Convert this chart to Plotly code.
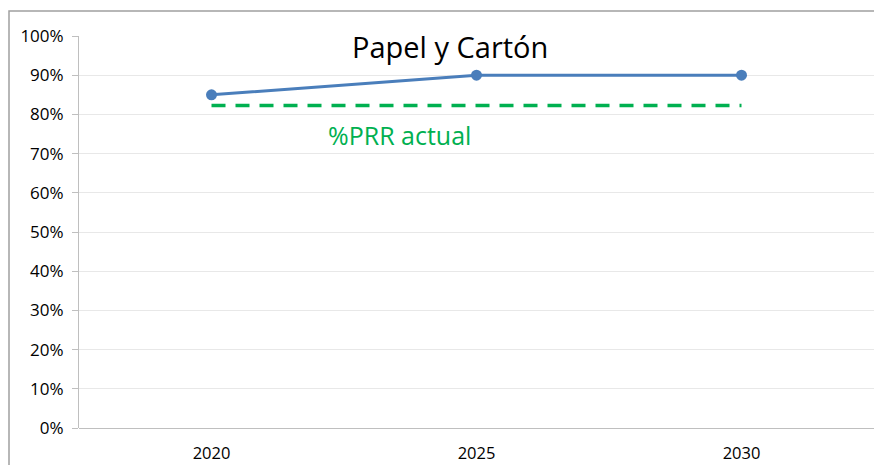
import plotly.graph_objects as go

years = ["2020", "2025", "2030"]
meta_pct = [85, 90, 90]
prr_actual = [82.3, 82.3, 82.3]
y_ticks = [0, 10, 20, 30, 40, 50, 60, 70, 80, 90, 100]
y_tick_labels = ["0%", "10%", "20%", "30%", "40%", "50%", "60%", "70%", "80%", "90%", "100%"]
title_text = "Papel y Cartón"
prr_label = "%PRR actual"

W, H = 874, 465
L, R, T, B = 79, 0, 36, 37
pw = W - L - R
ph = H - T - B

FONT = "Open Sans, Liberation Sans"

fig = go.Figure()
fig.add_trace(go.Scatter(
    x=years, y=prr_actual, mode="lines",
    line=dict(color="#00b050", width=3.5, dash="14px,10px"),
    hoverinfo="skip", showlegend=False))
fig.add_trace(go.Scatter(
    x=years, y=meta_pct, mode="lines+markers",
    line=dict(color="#4a7ebb", width=3),
    marker=dict(color="#4a7ebb", size=11),
    showlegend=False))

fig.add_annotation(x=0.9, y=97.2, xref="x", yref="y", xanchor="center",
                   yanchor="middle", text=title_text, showarrow=False,
                   font=dict(family=FONT, size=29, color="#000000"))
fig.add_annotation(x=0.708, y=74.7, xref="x", yref="y", xanchor="center",
                   yanchor="middle", text=prr_label, showarrow=False,
                   font=dict(family=FONT, size=25, color="#00b050"))

fig.add_shape(type="rect", xref="paper", yref="paper",
              x0=(9 - L) / pw, x1=(W + 5 - L) / pw,
              y0=-(H + 5 - T - ph) / ph, y1=1 + (T - 11) / ph,
              line=dict(color="#a0a0a0", width=1.5), fillcolor="rgba(0,0,0,0)",
              layer="below")

fig.update_layout(
    width=W, height=H,
    margin=dict(l=L, r=R, t=T, b=B, autoexpand=False),
    paper_bgcolor="white", plot_bgcolor="white",
    font=dict(family=FONT, size=15, color="#000000"),
    xaxis=dict(type="category", range=[-0.5, 2.5], showgrid=False,
               showline=False, ticks="", tickfont=dict(size=16.5),
               zeroline=False, ticklabelstandoff=13, fixedrange=True),
    yaxis=dict(range=[0, 100], tickvals=y_ticks, ticktext=y_tick_labels,
               showgrid=True, gridcolor="#e8e8e8", gridwidth=1,
               showline=True, linecolor="#bfbfbf", linewidth=1,
               ticks="outside", ticklen=6, tickcolor="#bfbfbf",
               zeroline=True, zerolinecolor="#bfbfbf", zerolinewidth=1,
               tickfont=dict(size=17), ticklabelstandoff=5, fixedrange=True),
)

fig.write_html("out.html", config={"displayModeBar": False},
               post_script="document.body.style.margin='0';document.body.style.overflow='hidden';")
